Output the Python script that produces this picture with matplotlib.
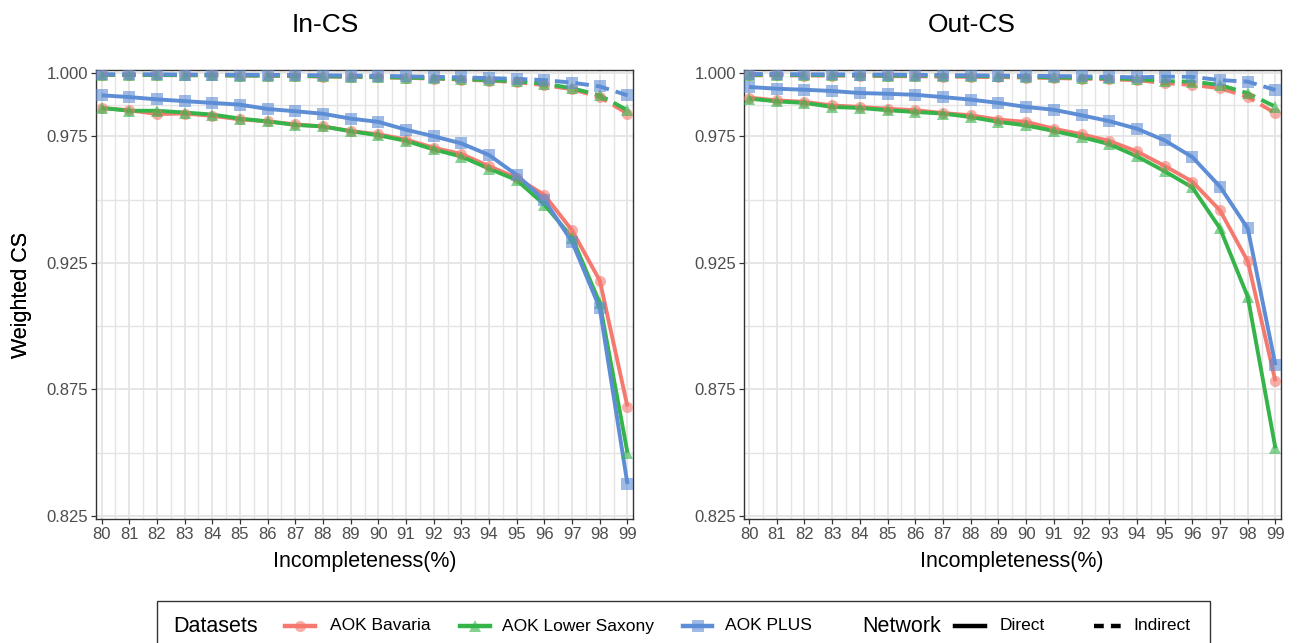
import numpy as np
import matplotlib
matplotlib.use("Agg")
import matplotlib.pyplot as plt
from matplotlib.lines import Line2D
from matplotlib.patches import Rectangle

plt.rcParams['font.family'] = ['Liberation Sans', 'DejaVu Sans']

incompleteness = list(range(80, 100))

# In-CS, direct network
bav_direct_in = [0.9862, 0.9853, 0.9838, 0.9840, 0.9831, 0.9817, 0.9809, 0.9797, 0.9789, 0.9771,
                 0.9758, 0.9737, 0.9705, 0.9680, 0.9632, 0.9586, 0.9518, 0.9378, 0.9180, 0.8682]
lsx_direct_in = [0.9862, 0.9851, 0.9851, 0.9844, 0.9836, 0.9820, 0.9809, 0.9795, 0.9789, 0.9770,
                 0.9754, 0.9732, 0.9698, 0.9670, 0.9622, 0.9577, 0.9480, 0.9350, 0.9091, 0.8500]
plus_direct_in = [0.9912, 0.9905, 0.9896, 0.9889, 0.9882, 0.9875, 0.9858, 0.9849, 0.9839, 0.9820,
                  0.9807, 0.9776, 0.9750, 0.9722, 0.9676, 0.9597, 0.9498, 0.9333, 0.9071, 0.8376]
# In-CS, indirect network
bav_indirect_in = [0.9993, 0.9992, 0.9992, 0.9991, 0.9991, 0.9990, 0.9989, 0.9988, 0.9986, 0.9985,
                   0.9983, 0.9981, 0.9978, 0.9974, 0.9970, 0.9964, 0.9952, 0.9936, 0.9905, 0.9840]
lsx_indirect_in = [0.9993, 0.9993, 0.9992, 0.9992, 0.9991, 0.9990, 0.9990, 0.9989, 0.9987, 0.9986,
                   0.9984, 0.9982, 0.9979, 0.9976, 0.9972, 0.9967, 0.9958, 0.9940, 0.9912, 0.9853]
plus_indirect_in = [0.9995, 0.9995, 0.9995, 0.9994, 0.9994, 0.9993, 0.9993, 0.9992, 0.9991, 0.9990,
                    0.9989, 0.9987, 0.9985, 0.9983, 0.9980, 0.9977, 0.9972, 0.9962, 0.9947, 0.9912]

# Out-CS, direct network
bav_direct_out = [0.9903, 0.9892, 0.9886, 0.9872, 0.9866, 0.9859, 0.9853, 0.9842, 0.9833, 0.9816,
                  0.9807, 0.9780, 0.9758, 0.9732, 0.9690, 0.9633, 0.9571, 0.9457, 0.9256, 0.8782]
lsx_direct_out = [0.9899, 0.9888, 0.9882, 0.9866, 0.9862, 0.9853, 0.9846, 0.9840, 0.9826, 0.9807,
                  0.9793, 0.9771, 0.9747, 0.9719, 0.9671, 0.9612, 0.9548, 0.9386, 0.9116, 0.8517]
plus_direct_out = [0.9945, 0.9938, 0.9934, 0.9929, 0.9921, 0.9918, 0.9914, 0.9905, 0.9895, 0.9882,
                   0.9866, 0.9855, 0.9833, 0.9810, 0.9780, 0.9734, 0.9668, 0.9551, 0.9386, 0.8846]
# Out-CS, indirect network
bav_indirect_out = [0.9991, 0.9991, 0.9990, 0.9990, 0.9989, 0.9988, 0.9987, 0.9986, 0.9985, 0.9984,
                    0.9982, 0.9980, 0.9978, 0.9975, 0.9972, 0.9960, 0.9953, 0.9940, 0.9906, 0.9841]
lsx_indirect_out = [0.9993, 0.9993, 0.9992, 0.9992, 0.9991, 0.9990, 0.9990, 0.9989, 0.9988, 0.9987,
                    0.9985, 0.9983, 0.9981, 0.9979, 0.9976, 0.9968, 0.9966, 0.9953, 0.9920, 0.9867]
plus_indirect_out = [0.9996, 0.9996, 0.9995, 0.9995, 0.9994, 0.9994, 0.9993, 0.9992, 0.9991, 0.9990,
                     0.9989, 0.9988, 0.9987, 0.9985, 0.9983, 0.9986, 0.9985, 0.9972, 0.9966, 0.9933]

datasets = ['AOK Bavaria', 'AOK Lower Saxony', 'AOK PLUS']
colors = ['#F47A70', '#35B44A', '#5D8DD4']
markers = ['o', '^', 's']
y_ticks = [0.825, 0.875, 0.925, 0.975, 1.000]
y_minor = [0.85, 0.90, 0.95, 0.9875]

panels = [
    ('In-CS', [bav_direct_in, lsx_direct_in, plus_direct_in],
     [bav_indirect_in, lsx_indirect_in, plus_indirect_in]),
    ('Out-CS', [bav_direct_out, lsx_direct_out, plus_direct_out],
     [bav_indirect_out, lsx_indirect_out, plus_indirect_out]),
]

W, H = 1302, 643
fig = plt.figure(figsize=(W / 100, H / 100), dpi=100)

axes_px = [(96, 633), (743.5, 1281)]
title_x = [325, 972]
top_px, bot_px = 70, 519
lw = 2.8

for (title, direct, indirect), (x0, x1), tx in zip(panels, axes_px, title_x):
    ax = fig.add_axes([x0 / W, 1 - bot_px / H, (x1 - x0) / W, (bot_px - top_px) / H])
    # lines first, then points (like geom_line + geom_point)
    for d, c in zip(direct, colors):
        ax.plot(incompleteness, d, color=c, lw=lw, solid_capstyle='butt', zorder=3)
    for d, c in zip(indirect, colors):
        ax.plot(incompleteness, d, color=c, lw=lw, linestyle=(0, (3.5, 1.8)), zorder=3)
    for series in (direct, indirect):
        for d, c, m in zip(series, colors, markers):
            ax.plot(incompleteness, d, linestyle='none', marker=m, markersize=8,
                    color=c, alpha=0.6, markeredgewidth=0, zorder=4)

    ax.set_xlim(79.8, 99.2)
    ax.set_ylim(0.8238, 1.0012)
    ax.set_xticks(incompleteness)
    ax.set_xticks(np.arange(80.5, 99, 1.0), minor=True)
    ax.set_yticks(y_ticks)
    ax.set_yticks(y_minor, minor=True)
    ax.set_yticklabels([f'{v:.3f}' for v in y_ticks])
    ax.grid(which='major', color='#E4E4E4', lw=1.3, zorder=0)
    ax.grid(which='minor', color='#E4E4E4', lw=1.0, zorder=0)
    ax.set_axisbelow(True)
    ax.tick_params(which='major', length=3.5, width=0.9, color='#333333',
                   labelsize=12, labelcolor='#4D4D4D', pad=2)
    ax.tick_params(which='minor', length=0)
    for s in ax.spines.values():
        s.set_color('#333333')
        s.set_linewidth(1.0)

    ax.set_xlabel('Incompleteness(%)', fontsize=15.5, va='center')
    ax.xaxis.set_label_coords(0.5, (bot_px - 562) / (bot_px - top_px))
    ax.set_ylabel('Weighted CS', fontsize=15.5, va='center')
    ax.yaxis.set_label_coords((22 - x0) / (x1 - x0), 0.5)

    fig.text(tx / W, 1 - 25 / H, title, fontsize=19, ha='center', va='center')

# legend box along the bottom
fig.add_artist(Rectangle((157 / W, -0.05), (1210 - 157) / W, 0.05 + 1 - 601 / H,
                         transform=fig.transFigure, fill=False, edgecolor='#333333', lw=1.0))
ly = 1 - 626 / H


def key(x_start, x_end, color, ls='-', marker=None):
    fig.add_artist(Line2D([x_start / W, x_end / W], [ly, ly], transform=fig.transFigure,
                          color=color, lw=lw + 0.4, linestyle=ls))
    if marker:
        fig.add_artist(Line2D([(x_start + x_end) / 2 / W], [ly], transform=fig.transFigure,
                              marker=marker, markersize=8, color=color, alpha=0.6,
                              markeredgewidth=0, linestyle='none'))


fig.text(173 / W, ly, 'Datasets', fontsize=15.5, va='center')
key_pos = [(285, 315, 330), (460, 490, 502), (683, 712, 725)]
for (a, b, t), lab, c, m in zip(key_pos, datasets, colors, markers):
    key(a, b, c, marker=m)
    fig.text(t / W, ly, lab, fontsize=12.5, va='center')

fig.text(862 / W, ly, 'Network', fontsize=15.5, va='center')
key(955, 985, 'black')
fig.text(1000 / W, ly, 'Direct', fontsize=12.5, va='center')
key(1094, 1124, 'black', ls=(0, (2.2, 1.6)))
fig.text(1133 / W, ly, 'Indirect', fontsize=12.5, va='center')

fig.savefig('out.png', dpi=100)
